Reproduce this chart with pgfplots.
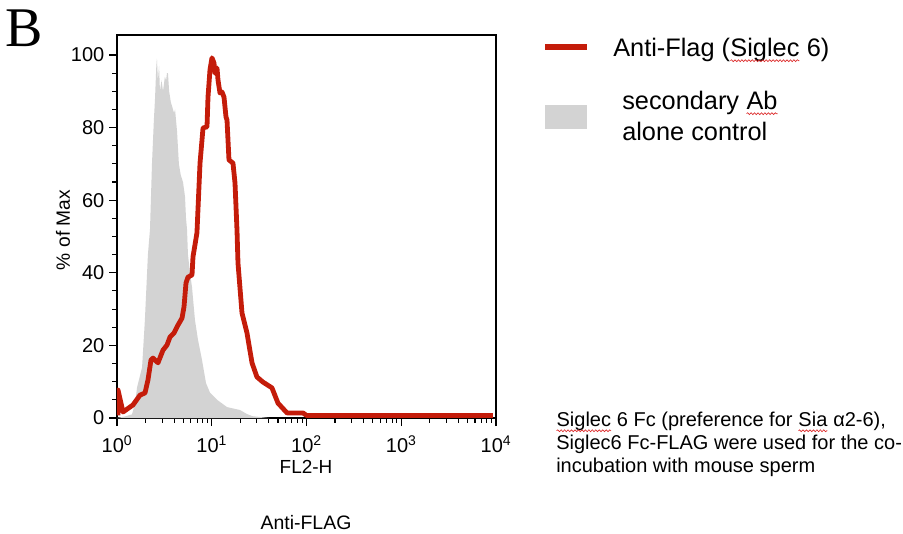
\documentclass[border=0pt]{standalone}
\usepackage{fontspec}
\setmainfont{Liberation Sans}
\newfontfamily\timesfont{Liberation Serif}
\usepackage{pgfplots}
\pgfplotsset{compat=1.18}
\usetikzlibrary{decorations.pathmorphing}
\definecolor{flagred}{RGB}{196,28,10}
\definecolor{ctrlgray}{RGB}{211,211,211}
\definecolor{spellred}{RGB}{220,40,40}
% word with a spell-check wave under it
\newcommand{\squig}[1]{\tikz[baseline=(w.base)]{\node[anchor=base west, inner sep=0pt, outer sep=0pt] (w) at (0,0) {#1};
  \draw[spellred, line width=0.5pt, decorate, decoration={snake, amplitude=0.7pt, segment length=2.6pt}]
    ([yshift=-3.2pt]w.base west) -- ([yshift=-3.2pt]w.base east);}}

\begin{document}
\begin{tikzpicture}
\path[use as bounding box] (-87.75pt,-86.25pt) rectangle (589.5pt,313.5pt);
\begin{axis}[
  at={(0pt,0pt)}, anchor=south west,
  scale only axis, width=284.25pt, height=287.25pt,
  xmode=log, xmin=1, xmax=10000, ymin=0, ymax=105.5,
  xtick={1,10,100,1000,10000},
  xticklabels={10\textsuperscript{0},10\textsuperscript{1},10\textsuperscript{2},10\textsuperscript{3},10\textsuperscript{4}},
  minor xtick={2,3,4,5,6,7,8,9,20,30,40,50,60,70,80,90,200,300,400,500,600,700,800,900,2000,3000,4000,5000,6000,7000,8000,9000},
  ytick={0,20,...,100},
  minor y tick num=3,
  tick align=outside, xtick pos=bottom, ytick pos=left,
  major tick length=6pt, minor tick length=3.5pt,
  axis line style={line width=1pt},
  every tick/.style={black, line width=0.8pt},
  tick label style={font=\fontsize{15}{17}\selectfont},
  xticklabel style={yshift=-4pt},
  /pgf/number format/assume math mode=true,
]
% secondary Ab alone control
\addplot[fill=ctrlgray, draw=none] coordinates {
(1,0) (1.2,0.4) (1.44,1) (1.55,4) (1.63,8.5) (1.84,14) (1.97,27) (2.12,45)
(2.23,52) (2.34,70) (2.45,82) (2.52,88) (2.6,97) (2.64,99) (2.7,93) (2.78,97)
(2.84,90) (2.95,93) (3.06,90) (3.2,94) (3.3,93) (3.37,95) (3.45,95) (3.55,90)
(3.7,87) (3.8,86) (4.0,84) (4.1,85) (4.3,79) (4.5,70) (4.7,67) (4.97,65)
(5.22,61) (5.35,55) (5.48,52) (5.61,45) (5.9,40) (6.19,36) (6.65,27) (7.16,21.5)
(7.89,16) (8.7,9.6) (9.58,7) (11.4,5) (14.5,3) (19.9,2.2) (23.5,1.1) (27,0.5) (40,0)
} \closedcycle;
% Anti-Flag (Siglec 6)
\addplot[flagred, line width=3.6pt, line join=round] coordinates {
(1.025,0.7) (1.025,7.7) (1.157,1.65) (1.475,3.6) (1.749,6.3) (1.975,6.9)
(2.124,10.5) (2.285,16) (2.399,16.5) (2.708,15.2) (3.059,18.7) (3.372,20.1)
(3.626,22.3) (3.997,23.4) (4.404,25.6) (4.853,27.5) (5.095,30.6) (5.35,37.2)
(5.61,38.8) (6.19,39.4) (6.34,44.4) (6.98,51) (7.52,70.2) (8.09,79.9)
(8.91,80.2) (9.13,88.4) (9.58,95.9) (10.06,99.2) (10.56,97.8) (10.82,95)
(11.36,96.4) (11.64,93.1) (12.22,89.5) (12.83,89.8) (13.47,88.4) (14.14,82.9)
(14.49,82.1) (15.2,71.1) (16.76,70.2) (17.6,64.7) (18.47,51.8) (18.92,42.7)
(20.86,28.9) (23.55,23.4) (26.6,15.2) (30.0,11.3) (34.7,9.9) (43.2,8.3)
(50.0,4.1) (62.3,1.4) (75.6,1.4) (91.9,1.4) (100,0.7) (9290,0.7)
};
\end{axis}
% panel letter and axis titles
\node[font=\timesfont\fontsize{42}{44}\selectfont] at (-69.75pt,292.5pt) {B};
\node[rotate=90, font=\fontsize{14.4}{16}\selectfont] at (-40.5pt,141pt) {\% of Max};
\node[font=\fontsize{14.2}{16}\selectfont] at (141.75pt,-36.75pt) {FL2-H};
\node[font=\fontsize{14.6}{16}\selectfont] at (141.75pt,-78.75pt) {Anti-FLAG};
% legend
\draw[flagred, line width=5pt] (321pt,278.25pt) -- (352.5pt,278.25pt);
\node[anchor=west, inner sep=0pt, font=\fontsize{19}{21}\selectfont] at (372pt,276pt) {Anti-Flag (\squig{Siglec} 6)};
\fill[ctrlgray] (321pt,216.75pt) rectangle (352.5pt,234.75pt);
\node[anchor=west, inner sep=0pt, font=\fontsize{19}{21}\selectfont] at (378.75pt,236.25pt) {secondary \squig{Ab}};
\node[anchor=west, inner sep=0pt, font=\fontsize{19}{21}\selectfont] at (378.75pt,215.25pt) {alone control};
% note
\node[anchor=west, inner sep=0pt, font=\fontsize{15}{17}\selectfont] at (329.25pt,-3pt) {\squig{Siglec} 6 Fc (preference for \squig{Sia} α2-6),};
\node[anchor=west, inner sep=0pt, font=\fontsize{15}{17}\selectfont] at (329.25pt,-19.5pt) {Siglec6 Fc-FLAG were used for the co-};
\node[anchor=west, inner sep=0pt, font=\fontsize{15}{17}\selectfont] at (329.25pt,-36.75pt) {incubation with mouse sperm};
\end{tikzpicture}
\end{document}
